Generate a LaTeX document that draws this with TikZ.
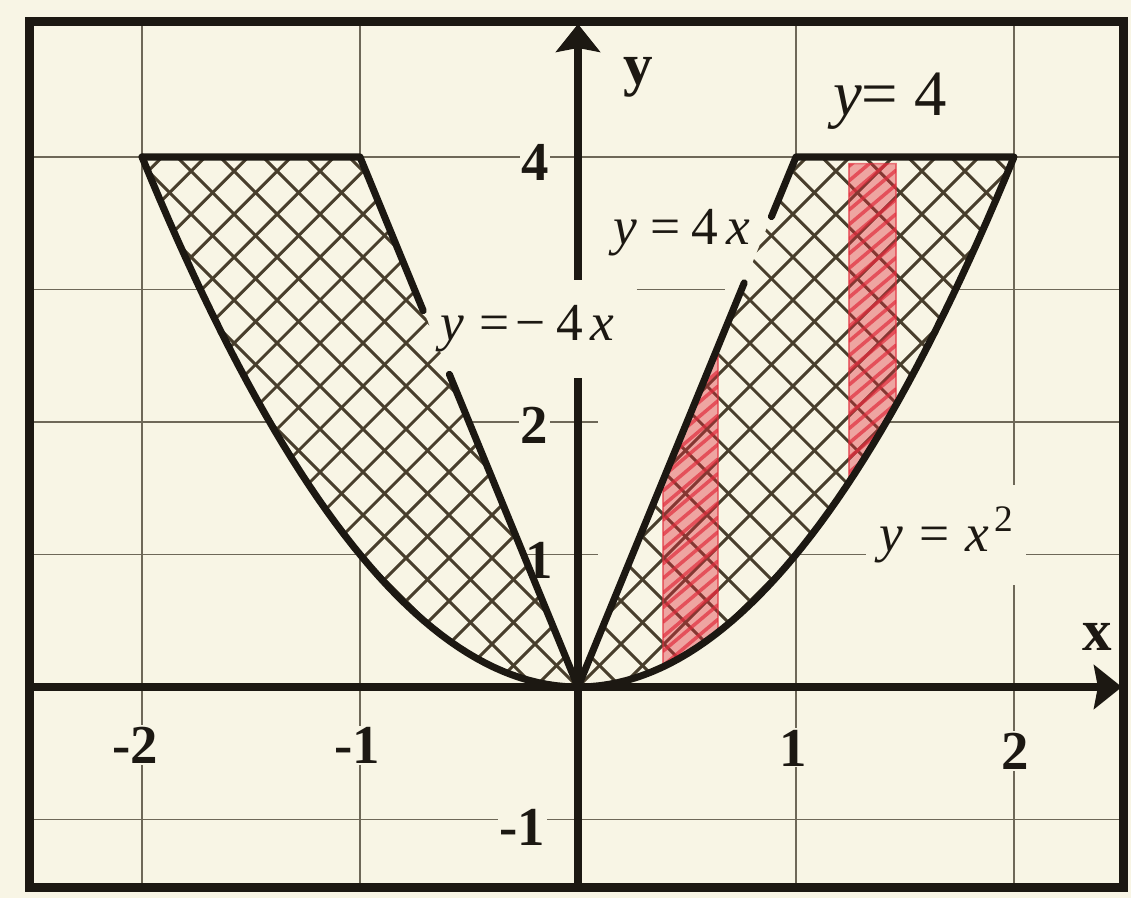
\documentclass[tikz,border=0pt]{standalone}
\usepackage{fontspec}
\setmainfont{Liberation Serif}
\usetikzlibrary{arrows.meta}
\definecolor{paper}{RGB}{248,245,229}
\definecolor{ink}{RGB}{28,24,18}
\definecolor{hatchc}{RGB}{72,62,44}
\definecolor{gridc}{RGB}{110,104,88}
\definecolor{redink}{RGB}{225,45,60}
\newcommand\myhatchlines{%
  \begin{scope}[x=0.025cm,y=0.025cm]
    \foreach \c in {-1290,-1247,...,1290} {
      \draw[hatchline] (-700,{-700+\c}) -- (700,{700+\c});
      \draw[hatchline] (-700,{700+\c}) -- (700,{-700+\c});
    }
  \end{scope}}
\begin{document}
\begin{tikzpicture}[x=5.45cm,y=3.3125cm,
  gridline/.style={draw=gridc,line width=1.2pt},
  bound/.style={draw=ink,line width=5pt,line cap=round,line join=round},
  axisline/.style={draw=ink,line width=5.5pt,-{Stealth[length=0.7cm,width=1.1cm,inset=0.1cm]}},
  hatchline/.style={draw=hatchc,line width=2.1pt},
  ticklab/.style={font=\fontsize{39}{39}\selectfont\bfseries,text=ink,fill=paper,inner sep=1pt},
  eqlab/.style={font=\fontsize{38}{38}\selectfont,text=ink,fill=paper,inner sep=2pt},
  axlab/.style={font=\fontsize{42}{42}\selectfont\bfseries,text=ink},
  redstrip/.style={fill=redink,fill opacity=0.4,draw=redink,draw opacity=0.6,line width=1.2pt},
  redscribble/.style={draw=redink,opacity=0.7,line width=2.5pt,line cap=round}
]
\useasboundingbox (-2.6514,-1.5925) rectangle (2.5367,5.1849);
\fill[paper] (-2.6514,-1.5925) rectangle (2.5367,5.1849);

% grid
\foreach \gx in {-2,-1,1,2} \draw[gridline] (\gx,-1.517) -- (\gx,5.019);
\foreach \gy in {-1,1,2,3,4} \draw[gridline] (-2.514,\gy) -- (2.5,\gy);

% paper inside the cup
\fill[paper] plot[domain=-2:2,samples=80] (\x,{\x*\x}) -- cycle;
\draw[gridline] (-1,4) -- (1,4);
\draw[gridline] (-0.5,2) -- (0.092,2);
\draw[gridline] (-0.25,1) -- (0.092,1);
\draw[gridline] (-0.092,3) -- (0.092,3);
\draw[gridline] (0.27,3) -- (0.674,3);

% frame
\draw[ink,line width=6.4pt] (-2.514,-1.517) rectangle (2.5,5.019);

% axes
\draw[axisline] (-2.514,0) -- (2.495,0);
\draw[axisline] (0,-1.517) -- (0,5.004);

% equation labels
\node[eqlab,minimum width=4.75cm,minimum height=2.45cm] (lm) at (-0.232,2.702)
  {\textit{y}\hspace{.3em}=\hspace{.1em}−\hspace{.2em}4\hspace{.15em}\textit{x}};
\node[eqlab] (lp) at (0.475,3.426)
  {\textit{y}\hspace{.25em}=\hspace{.2em}4\hspace{.15em}\textit{x}};
\node[eqlab,font=\fontsize{46}{46}\selectfont] (l4) at (1.431,4.423) {\textit{y}= 4};
\node[eqlab,minimum width=4cm,minimum height=2.5cm] (lq) at (1.69,1.147)
  {\textit{y}\hspace{.3em}=\hspace{.3em}\textit{x}\hspace{.1em}\raisebox{.15em}{\textsuperscript{2}}};

% axis names
\node[axlab] (ylab) at (0.275,4.604) {y};
\node[axlab] (xlab) at (2.381,0.377) {x};

% cross hatching
\begin{scope}
  \clip (0,0) -- (-1,4) -- (-2,4) -- plot[domain=-2:0,samples=60] (\x,{\x*\x}) -- cycle;
  \myhatchlines
\end{scope}
\begin{scope}
  \clip (0,0) -- (1,4) -- (2,4) -- plot[domain=2:0,samples=60] (\x,{\x*\x}) -- cycle;
  \myhatchlines
\end{scope}

% red strips
\fill[redstrip] (0.39,0.1521) -- (0.39,1.56) -- (0.642,2.568) -- plot[domain=0.642:0.39,samples=20] (\x,{\x*\x}) -- cycle;
\begin{scope}
  \clip (0.39,0.1521) -- (0.39,1.56) -- (0.642,2.568) -- plot[domain=0.642:0.39,samples=20] (\x,{\x*\x}) -- cycle;
  \foreach \k in {0,...,24} \draw[redscribble] (0.39,{0.05+\k*0.11}) -- (0.642,{0.4+\k*0.11});
\end{scope}
\fill[redstrip] (1.243,1.545) -- (1.243,3.95) -- (1.459,3.95) -- plot[domain=1.459:1.243,samples=20] (\x,{\x*\x}) -- cycle;
\begin{scope}
  \clip (1.243,1.545) -- (1.243,3.95) -- (1.459,3.95) -- plot[domain=1.459:1.243,samples=20] (\x,{\x*\x}) -- cycle;
  \foreach \k in {0,...,24} \draw[redscribble] (1.243,{1.4+\k*0.11}) -- (1.459,{1.7+\k*0.11});
\end{scope}

% boundaries
\draw[bound] (-2,4) -- (-1,4) -- (-0.71,2.84);
\draw[bound] (-0.59,2.36) -- (0,0) -- (0.7625,3.05);
\draw[bound] (0.8875,3.55) -- (1,4) -- (2,4);
\draw[bound] plot[domain=-2:2,samples=100] (\x,{\x*\x});

% tick labels
\node[ticklab] (t4) at (-0.197,3.962) {4};
\node[ticklab] (t2) at (-0.2,1.974) {2};
\node[ticklab,fill=none] (t1) at (-0.179,0.958) {1};
\node[ticklab] (tm1) at (-0.255,-1.057) {-1};
\node[ticklab] (xm2) at (-2.032,-0.438) {-2};
\node[ticklab] (xm1) at (-1.014,-0.438) {-1};
\node[ticklab] (x1) at (0.986,-0.46) {1};
\node[ticklab] (x2) at (2.005,-0.483) {2};
\end{tikzpicture}
\end{document}
